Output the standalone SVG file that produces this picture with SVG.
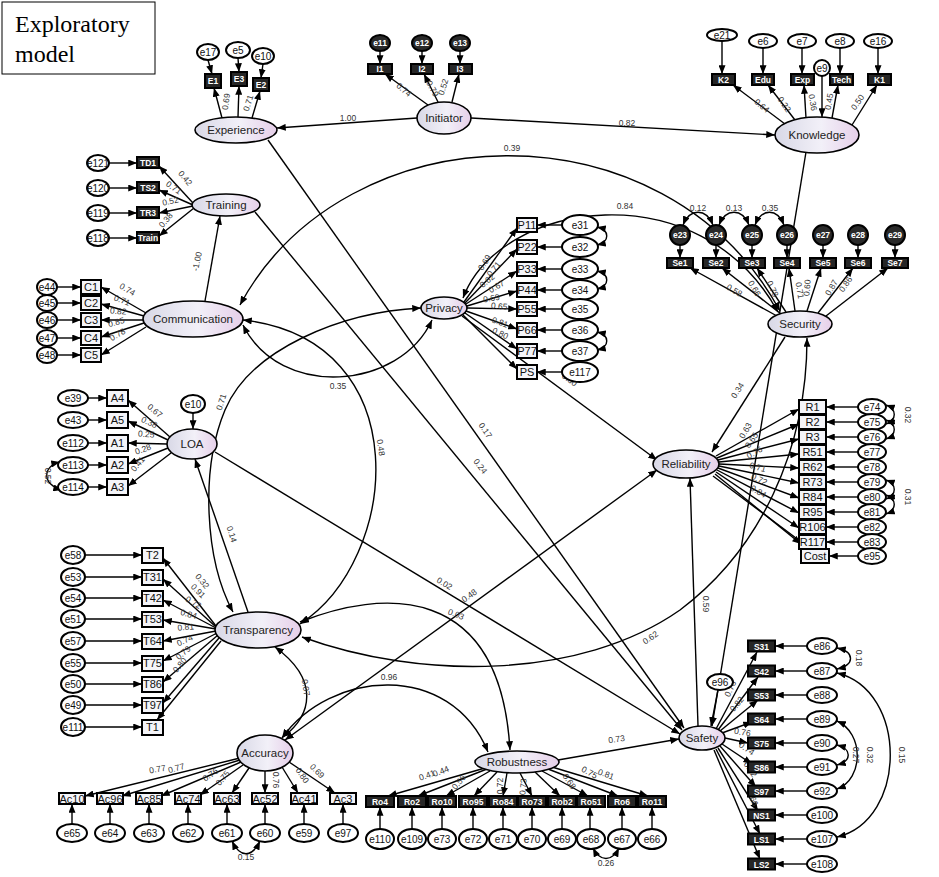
<svg xmlns="http://www.w3.org/2000/svg" width="939" height="877" viewBox="0 0 939 877">
<defs>
<linearGradient id="lg" x1="0" y1="0" x2="1" y2="0">
<stop offset="0" stop-color="#d8d8e6"/><stop offset="0.55" stop-color="#f2f0f8"/><stop offset="1" stop-color="#e6cfe9"/>
</linearGradient>
<marker id="ah" viewBox="0 0 10 8" refX="10" refY="4" markerWidth="9" markerHeight="7" markerUnits="userSpaceOnUse" orient="auto-start-reverse"><path d="M0,0 L10,4 L0,8 z" fill="#000"/></marker>
</defs>
<style>
.lat{fill:url(#lg);stroke:#000;stroke-width:1.6}
.err{fill:#fff;stroke:#000;stroke-width:2}
.errd{fill:#2a2a2a;stroke:#000;stroke-width:2}
.obs{fill:#f4f4f8;stroke:#000;stroke-width:2}
.obsd{fill:#262626;stroke:#000;stroke-width:2}
.lt{font-family:"Liberation Sans",Arial,sans-serif;font-size:11.5px;text-anchor:middle;fill:#222}
.ot{font-family:"Liberation Sans",Arial,sans-serif;font-size:11px;text-anchor:middle;fill:#111}
.od{font-family:"Liberation Sans",Arial,sans-serif;font-size:8.5px;text-anchor:middle;fill:#fff;font-weight:bold}
.et{font-family:"Liberation Sans",Arial,sans-serif;font-size:10px;text-anchor:middle;fill:#111}
.ed{font-family:"Liberation Sans",Arial,sans-serif;font-size:8.5px;text-anchor:middle;fill:#fff;font-weight:bold}
.n{font-family:"Liberation Sans",Arial,sans-serif;font-size:8.5px;text-anchor:middle;fill:#333}
.c{fill:none;stroke:#000;stroke-width:1.4;marker-end:url(#ah)}
.cc{fill:none;stroke:#000;stroke-width:1.4;marker-end:url(#ah);marker-start:url(#ah)}
</style>
<rect width="939" height="877" fill="#fff"/>

<g id="title">
<rect x="2" y="2" width="153" height="72" fill="#fff" stroke="#000" stroke-width="1"/>
<text x="15" y="32" font-family="Liberation Serif, serif" font-size="24">Exploratory</text>
<text x="15" y="62" font-family="Liberation Serif, serif" font-size="24">model</text>
</g>

<g id="connectors">
<!-- structural -->
<path class="c" d="M417,118 L277,128"/>
<path class="c" d="M471,118 L775,135"/>
<path class="c" d="M205,301 L220,216"/>
<path class="c" d="M268,140 L684,728"/>
<path class="c" d="M255,212 L682,730"/>
<path class="c" d="M806,152 L712,726"/>
<path class="c" d="M215,452 L680,734"/>
<path class="c" d="M462,316 L657,460"/>
<path class="c" d="M785,337 L712,452"/>
<path class="c" d="M698,726 L690,478"/>
<path class="c" d="M558,760 L679,739"/>
<path class="c" d="M248,612 L195,459"/>
<path class="cc" d="M285,740 L657,470"/>
<path class="cc" d="M240,305 C345,110 665,100 780,311"/>
<path class="cc" d="M463,298 C500,200 700,170 778,312"/>
<path class="cc" d="M243,325 C280,400 400,390 432,320"/>
<path class="cc" d="M243,320 C420,340 400,560 300,624"/>
<path class="cc" d="M233,612 C205,560 200,470 225,410 S340,312 421,308"/>
<path class="cc" d="M302,637 C420,680 580,680 680,610 C760,550 807,450 807,338"/>
<path class="cc" d="M300,622 C380,590 500,580 510,750"/>
<path class="cc" d="M282,738 C330,670 450,660 488,752"/>
<path class="cc" d="M275,647 C320,680 312,715 283,737"/>

<!-- experience -->
<path class="c" d="M208,60 L212,74"/><path class="c" d="M238,58 L239,72"/><path class="c" d="M263,64 L261,78"/>
<path class="c" d="M222,118 L214,88"/><path class="c" d="M238,117 L239,86"/><path class="c" d="M252,118 L260,91"/>
<!-- initiator -->
<path class="c" d="M380,51 L380,64"/><path class="c" d="M422,51 L422,64"/><path class="c" d="M460,51 L460,64"/>
<path class="c" d="M428,105 L385,74"/><path class="c" d="M438,102 L424,74"/><path class="c" d="M452,102 L459,74"/>
<!-- knowledge -->
<path class="c" d="M722,41 L722,74"/><path class="c" d="M763,48 L763,74"/><path class="c" d="M802,48 L802,74"/><path class="c" d="M840,48 L840,74"/><path class="c" d="M878,48 L878,74"/>
<path class="c" d="M822,76 L822,117"/>
<path class="c" d="M785,124 L733,85"/><path class="c" d="M795,120 L768,85"/><path class="c" d="M806,118 L804,85"/><path class="c" d="M832,118 L838,85"/><path class="c" d="M852,125 L877,85"/>
<!-- training -->
<path class="c" d="M109,163 L137,163"/><path class="c" d="M109,188 L137,188"/><path class="c" d="M109,213 L137,213"/><path class="c" d="M109,238 L137,238"/>
<path class="c" d="M193,203 L159,166"/><path class="c" d="M193,205 L159,190"/><path class="c" d="M193,206 L159,213"/><path class="c" d="M194,208 L159,236"/>
<!-- communication -->
<path class="c" d="M57,287 L81,287"/><path class="c" d="M57,303 L81,303"/><path class="c" d="M57,320 L81,320"/><path class="c" d="M57,338 L81,338"/><path class="c" d="M57,355 L81,355"/>
<path class="c" d="M146,313 L101,287"/><path class="c" d="M144,316 L101,304"/><path class="c" d="M143,320 L101,320"/><path class="c" d="M144,323 L101,337"/><path class="c" d="M146,327 L101,355"/>
<!-- privacy -->
<path class="c" d="M562,225 L537,225"/><path class="c" d="M562,247 L537,247"/><path class="c" d="M562,269 L537,269"/><path class="c" d="M562,290 L537,290"/><path class="c" d="M562,309 L537,309"/><path class="c" d="M562,330 L537,330"/><path class="c" d="M562,351 L537,351"/><path class="c" d="M562,372 L537,372"/>
<path class="c" d="M464,302 L517,228"/><path class="c" d="M465,303 L517,249"/><path class="c" d="M466,304 L517,271"/><path class="c" d="M467,306 L517,291"/><path class="c" d="M467,308 L517,309"/><path class="c" d="M466,311 L517,329"/><path class="c" d="M465,313 L517,349"/><path class="c" d="M463,315 L517,369"/>
<path class="cc" d="M597,227 C610,230 610,242 597,245"/><path class="cc" d="M597,271 C610,274 610,286 597,289"/><path class="cc" d="M597,332 C610,335 610,347 597,350"/>
<!-- security -->
<path class="c" d="M680,245 L680,258"/><path class="c" d="M716,245 L716,258"/><path class="c" d="M752,245 L752,258"/><path class="c" d="M787,245 L787,258"/><path class="c" d="M823,245 L823,258"/><path class="c" d="M858,245 L858,258"/><path class="c" d="M895,245 L895,258"/>
<path class="c" d="M777,316 L690,268"/><path class="c" d="M781,314 L722,268"/><path class="c" d="M786,312 L757,268"/><path class="c" d="M795,311 L789,268"/><path class="c" d="M807,311 L821,268"/><path class="c" d="M818,313 L853,268"/><path class="c" d="M826,316 L888,268"/>
<path class="cc" d="M683,225 C690,208 706,208 713,225"/><path class="cc" d="M719,225 C726,208 742,208 749,225"/><path class="cc" d="M755,225 C762,208 777,208 784,225"/>
<!-- loa -->
<path class="c" d="M88,398 L107,398"/><path class="c" d="M88,420 L107,420"/><path class="c" d="M88,443 L107,443"/><path class="c" d="M88,465 L107,465"/><path class="c" d="M88,487 L107,487"/>
<path class="c" d="M193,413 L193,429"/>
<path class="c" d="M170,437 L128,400"/><path class="c" d="M168,440 L128,421"/><path class="c" d="M167,444 L128,443"/><path class="c" d="M168,448 L128,464"/><path class="c" d="M171,453 L128,486"/>
<path class="cc" d="M60,462 C42,466 42,485 62,490"/>
<!-- reliability -->
<path class="c" d="M858,407 L826,407"/><path class="c" d="M858,422 L826,422"/><path class="c" d="M858,437 L826,437"/><path class="c" d="M858,452 L826,452"/><path class="c" d="M858,467 L826,467"/><path class="c" d="M858,482 L826,482"/><path class="c" d="M858,497 L826,497"/><path class="c" d="M858,512 L826,512"/><path class="c" d="M858,527 L826,527"/><path class="c" d="M858,542 L826,542"/><path class="c" d="M858,556 L829,556"/>
<path class="c" d="M716,456 L799,409"/><path class="c" d="M717,458 L799,424"/><path class="c" d="M718,460 L799,439"/><path class="c" d="M719,462 L799,454"/><path class="c" d="M719,464 L799,468"/><path class="c" d="M719,466 L799,483"/><path class="c" d="M718,468 L799,498"/><path class="c" d="M717,470 L799,513"/><path class="c" d="M716,472 L799,528"/><path class="c" d="M715,474 L801,544"/><path class="c" d="M713,476 L812,550"/>
<path class="cc" d="M886,405 C897,409 897,420 886,424"/><path class="cc" d="M886,420 C897,424 897,435 886,439"/><path class="cc" d="M886,480 C897,484 897,495 886,499"/><path class="cc" d="M886,495 C897,499 897,510 886,514"/>
<!-- transparency -->
<path class="c" d="M85,555 L142,555"/><path class="c" d="M85,577 L142,577"/><path class="c" d="M85,598 L142,598"/><path class="c" d="M85,619 L142,619"/><path class="c" d="M85,641 L142,641"/><path class="c" d="M85,663 L142,663"/><path class="c" d="M85,684 L142,684"/><path class="c" d="M85,705 L142,705"/><path class="c" d="M85,727 L142,727"/>
<path class="c" d="M216,626 L163,558"/><path class="c" d="M216,627 L163,579"/><path class="c" d="M216,628 L163,600"/><path class="c" d="M216,629 L163,620"/><path class="c" d="M216,631 L163,641"/><path class="c" d="M217,633 L163,661"/><path class="c" d="M218,635 L163,682"/><path class="c" d="M219,638 L163,703"/><path class="c" d="M221,641 L157,720"/>
<!-- safety -->
<path class="c" d="M807,646 L775,646"/><path class="c" d="M807,671 L775,671"/><path class="c" d="M807,695 L775,695"/><path class="c" d="M807,719 L775,719"/><path class="c" d="M807,743 L775,743"/><path class="c" d="M807,767 L775,767"/><path class="c" d="M807,791 L775,791"/><path class="c" d="M807,815 L775,815"/><path class="c" d="M807,839 L775,839"/><path class="c" d="M807,864 L775,864"/>
<path class="c" d="M718,690 L711,726"/>
<path class="c" d="M716,729 L757,652"/><path class="c" d="M718,730 L758,677"/><path class="c" d="M720,731 L758,700"/><path class="c" d="M722,733 L752,722"/><path class="c" d="M725,738 L748,743"/><path class="c" d="M722,744 L752,764"/><path class="c" d="M720,746 L756,787"/><path class="c" d="M718,748 L758,811"/><path class="c" d="M716,749 L760,834"/><path class="c" d="M714,750 L760,859"/>
<path class="cc" d="M837,648 C855,652 855,665 837,669"/><path class="cc" d="M837,721 C864,733 864,779 837,789"/><path class="cc" d="M837,745 C852,749 852,761 837,765"/><path class="cc" d="M837,673 C908,690 908,820 837,837"/>
<!-- accuracy -->
<path class="c" d="M72,824 L72,804"/><path class="c" d="M110,824 L110,804"/><path class="c" d="M149,824 L149,804"/><path class="c" d="M188,824 L188,804"/><path class="c" d="M227,824 L227,804"/><path class="c" d="M265,824 L265,804"/><path class="c" d="M304,824 L304,804"/><path class="c" d="M343,824 L343,804"/>
<path class="c" d="M240,758 L85,796"/><path class="c" d="M240,760 L122,796"/><path class="c" d="M241,762 L161,796"/><path class="c" d="M243,765 L200,795"/><path class="c" d="M249,768 L232,793"/><path class="c" d="M265,771 L265,793"/><path class="c" d="M282,767 L298,793"/><path class="c" d="M289,762 L335,793"/>
<path class="cc" d="M232,841 C240,858 252,858 260,841"/>
<!-- robustness -->
<path class="c" d="M380,829 L380,807"/><path class="c" d="M412,829 L412,807"/><path class="c" d="M442,829 L442,807"/><path class="c" d="M473,829 L473,807"/><path class="c" d="M503,829 L503,807"/><path class="c" d="M532,829 L532,807"/><path class="c" d="M562,829 L562,807"/><path class="c" d="M590,829 L590,807"/><path class="c" d="M622,829 L622,807"/><path class="c" d="M652,829 L652,807"/>
<path class="c" d="M485,768 L388,796"/><path class="c" d="M487,769 L418,796"/><path class="c" d="M490,771 L446,796"/><path class="c" d="M497,772 L474,796"/><path class="c" d="M507,773 L503,796"/><path class="c" d="M520,773 L532,796"/><path class="c" d="M535,772 L560,796"/><path class="c" d="M542,771 L588,796"/><path class="c" d="M548,769 L618,796"/><path class="c" d="M552,767 L648,796"/>
<path class="cc" d="M593,848 C600,862 612,862 619,848"/>
</g>

<g id="labels">
<text class="n" x="348" y="121">1.00</text>
<text class="n" x="627" y="126">0.82</text>
<text class="n" transform="translate(200,262) rotate(-78)">-1.00</text>
<text class="n" x="512" y="151">0.39</text>
<text class="n" x="625" y="209">0.84</text>
<text class="n" x="338" y="389">0.35</text>
<text class="n" transform="translate(378,448) rotate(82)">0.48</text>
<text class="n" transform="translate(224,403) rotate(-72)">0.71</text>
<text class="n" transform="translate(229,535) rotate(72)">0.14</text>
<text class="n" transform="translate(483,432) rotate(55)">0.17</text>
<text class="n" transform="translate(478,468) rotate(52)">0.24</text>
<text class="n" transform="translate(443,586) rotate(31)">0.02</text>
<text class="n" transform="translate(568,382) rotate(36)">0.30</text>
<text class="n" transform="translate(740,392) rotate(-58)">0.34</text>
<text class="n" transform="translate(703,604) rotate(90)">0.59</text>
<text class="n" transform="translate(471,598) rotate(-36)">0.48</text>
<text class="n" transform="translate(455,617) rotate(22)">0.03</text>
<text class="n" x="389" y="680">0.96</text>
<text class="n" transform="translate(303,688) rotate(82)">0.07</text>
<text class="n" transform="translate(652,640) rotate(-35)">0.62</text>
<text class="n" transform="translate(617,742) rotate(-8)">0.73</text>
<!-- experience -->
<text class="n" transform="translate(229,102) rotate(-82)">0.69</text>
<text class="n" transform="translate(251,104) rotate(-72)">0.71</text>
<!-- initiator -->
<text class="n" transform="translate(402,92) rotate(40)">0.74</text>
<text class="n" transform="translate(430,90) rotate(62)">0.79</text>
<text class="n" transform="translate(446,88) rotate(-72)">0.52</text>
<!-- knowledge -->
<text class="n" transform="translate(760,108) rotate(40)">0.64</text>
<text class="n" transform="translate(782,106) rotate(55)">0.22</text>
<text class="n" transform="translate(810,103) rotate(80)">0.36</text>
<text class="n" transform="translate(832,102) rotate(-80)">0.45</text>
<text class="n" transform="translate(860,104) rotate(-55)">0.50</text>
<!-- training -->
<text class="n" transform="translate(183,180) rotate(50)">0.42</text>
<text class="n" transform="translate(172,190) rotate(35)">0.71</text>
<text class="n" transform="translate(171,204) rotate(-12)">0.52</text>
<text class="n" transform="translate(168,222) rotate(-50)">0.38</text>
<!-- communication -->
<text class="n" transform="translate(126,292) rotate(30)">0.74</text>
<text class="n" transform="translate(121,303) rotate(22)">0.71</text>
<text class="n" transform="translate(118,314) rotate(5)">0.82</text>
<text class="n" transform="translate(117,325) rotate(-15)">0.85</text>
<text class="n" transform="translate(119,337) rotate(-30)">0.78</text>
<!-- privacy -->
<text class="n" transform="translate(487,264) rotate(-58)">0.69</text>
<text class="n" transform="translate(496,271) rotate(-50)">0.71</text>
<text class="n" transform="translate(489,283) rotate(-40)">0.62</text>
<text class="n" transform="translate(498,289) rotate(-30)">0.67</text>
<text class="n" transform="translate(492,301) rotate(-10)">0.69</text>
<text class="n" transform="translate(499,309) rotate(5)">0.65</text>
<text class="n" transform="translate(499,325) rotate(20)">0.81</text>
<text class="n" transform="translate(499,336) rotate(25)">0.80</text>
<!-- security -->
<text class="n" x="698" y="211">0.12</text>
<text class="n" x="734" y="211">0.13</text>
<text class="n" x="770" y="211">0.35</text>
<text class="n" transform="translate(733,293) rotate(30)">0.58</text>
<text class="n" transform="translate(752,290) rotate(60)">0.66</text>
<text class="n" transform="translate(770,290) rotate(65)">0.78</text>
<text class="n" transform="translate(797,291) rotate(80)">0.71</text>
<text class="n" transform="translate(810,288) rotate(-85)">0.60</text>
<text class="n" transform="translate(834,289) rotate(-60)">0.87</text>
<text class="n" transform="translate(848,286) rotate(-55)">0.86</text>
<!-- loa -->
<text class="n" transform="translate(153,413) rotate(40)">0.67</text>
<text class="n" transform="translate(148,425) rotate(25)">0.38</text>
<text class="n" transform="translate(146,437) rotate(5)">0.25</text>
<text class="n" transform="translate(144,452) rotate(-20)">0.28</text>
<text class="n" transform="translate(140,466) rotate(-50)">0.41</text>
<text class="n" transform="translate(45,476) rotate(90)">0.52</text>
<!-- reliability -->
<text class="n" transform="translate(748,432) rotate(-60)">0.63</text>
<text class="n" transform="translate(754,442) rotate(-55)">0.65</text>
<text class="n" transform="translate(756,455) rotate(-30)">0.76</text>
<text class="n" transform="translate(757,470) rotate(15)">0.71</text>
<text class="n" transform="translate(758,482) rotate(25)">0.72</text>
<text class="n" transform="translate(757,494) rotate(30)">0.84</text>
<text class="n" transform="translate(905,415) rotate(90)">0.32</text>
<text class="n" transform="translate(905,497) rotate(90)">0.31</text>
<!-- transparency -->
<text class="n" transform="translate(200,583) rotate(50)">0.32</text>
<text class="n" transform="translate(196,593) rotate(45)">0.91</text>
<text class="n" transform="translate(192,605) rotate(30)">0.72</text>
<text class="n" transform="translate(188,617) rotate(15)">0.84</text>
<text class="n" transform="translate(186,630) rotate(-5)">0.81</text>
<text class="n" transform="translate(186,643) rotate(-25)">0.74</text>
<text class="n" transform="translate(185,655) rotate(-40)">0.79</text>
<text class="n" transform="translate(182,667) rotate(-50)">0.80</text>
<!-- safety -->
<text class="n" transform="translate(733,690) rotate(-65)">0.76</text>
<text class="n" transform="translate(739,706) rotate(-50)">0.82</text>
<text class="n" transform="translate(742,735) rotate(10)">0.76</text>
<text class="n" transform="translate(745,751) rotate(35)">0.74</text>
<text class="n" transform="translate(748,771) rotate(55)">0.72</text>
<text class="n" transform="translate(750,799) rotate(68)">0.66</text>
<text class="n" transform="translate(856,658) rotate(90)">0.18</text>
<text class="n" transform="translate(853,755) rotate(90)">0.27</text>
<text class="n" transform="translate(867,755) rotate(90)">0.32</text>
<text class="n" transform="translate(899,755) rotate(90)">0.15</text>
<!-- accuracy -->
<text class="n" transform="translate(158,772) rotate(-10)">0.77</text>
<text class="n" transform="translate(177,771) rotate(-15)">0.77</text>
<text class="n" transform="translate(212,777) rotate(-35)">0.76</text>
<text class="n" transform="translate(225,780) rotate(-50)">0.75</text>
<text class="n" transform="translate(273,780) rotate(90)">0.76</text>
<text class="n" transform="translate(300,777) rotate(55)">0.80</text>
<text class="n" transform="translate(315,773) rotate(45)">0.69</text>
<text class="n" x="246" y="860">0.15</text>
<!-- robustness -->
<text class="n" transform="translate(428,778) rotate(-20)">0.41</text>
<text class="n" transform="translate(442,774) rotate(-22)">0.44</text>
<text class="n" transform="translate(461,784) rotate(-50)">0.56</text>
<text class="n" transform="translate(503,786) rotate(-90)">0.72</text>
<text class="n" transform="translate(526,787) rotate(-85)">0.73</text>
<text class="n" transform="translate(567,783) rotate(55)">0.68</text>
<text class="n" transform="translate(588,775) rotate(28)">0.75</text>
<text class="n" transform="translate(605,777) rotate(20)">0.81</text>
<text class="n" x="606" y="866">0.26</text>
</g>

<!-- latent nodes -->
<g id="Experience"><ellipse class="lat" cx="236" cy="130" rx="41" ry="13"/><text class="lt" x="236" y="134">Experience</text></g>
<g id="Initiator"><ellipse class="lat" cx="444" cy="118" rx="27" ry="16"/><text class="lt" x="444" y="122">Initiator</text></g>
<g id="Knowledge"><ellipse class="lat" cx="817" cy="135" rx="42" ry="18"/><text class="lt" x="817" y="139">Knowledge</text></g>
<g id="Training"><ellipse class="lat" cx="226" cy="205" rx="34" ry="11"/><text class="lt" x="226" y="209">Training</text></g>
<g id="Communication"><ellipse class="lat" cx="193" cy="319" rx="50" ry="18"/><text class="lt" x="193" y="323">Communication</text></g>
<g id="Privacy"><ellipse class="lat" cx="444" cy="308" rx="23" ry="11"/><text class="lt" x="444" y="312">Privacy</text></g>
<g id="Security"><ellipse class="lat" cx="800" cy="324" rx="32" ry="13"/><text class="lt" x="800" y="328">Security</text></g>
<g id="LOA"><ellipse class="lat" cx="192" cy="444" rx="25" ry="15"/><text class="lt" x="192" y="448">LOA</text></g>
<g id="Reliability"><ellipse class="lat" cx="686" cy="464" rx="33" ry="14"/><text class="lt" x="686" y="468">Reliability</text></g>
<g id="Transparency"><ellipse class="lat" cx="258" cy="630" rx="43" ry="18"/><text class="lt" x="258" y="634">Transparency</text></g>
<g id="Safety"><ellipse class="lat" cx="702" cy="738" rx="23" ry="12"/><text class="lt" x="702" y="742">Safety</text></g>
<g id="Accuracy"><ellipse class="lat" cx="265" cy="753" rx="28" ry="18"/><text class="lt" x="265" y="757">Accuracy</text></g>
<g id="Robustness"><ellipse class="lat" cx="517" cy="762" rx="42" ry="11"/><text class="lt" x="517" y="766">Robustness</text></g>

<!-- experience indicators -->
<g id="E1"><rect class="obsd" x="205" y="74" width="16" height="14"/><text class="od" x="213" y="84">E1</text></g>
<g id="E3"><rect class="obsd" x="231" y="72" width="16" height="14"/><text class="od" x="239" y="82">E3</text></g>
<g id="E2"><rect class="obsd" x="253" y="78" width="16" height="13"/><text class="od" x="261" y="88">E2</text></g>
<g id="e17"><ellipse class="err" cx="208" cy="52" rx="11" ry="8"/><text class="et" x="208" y="56">e17</text></g>
<g id="e5"><ellipse class="err" cx="238" cy="50" rx="12" ry="8"/><text class="et" x="238" y="54">e5</text></g>
<g id="e10a"><ellipse class="err" cx="263" cy="56" rx="11" ry="8"/><text class="et" x="263" y="60">e10</text></g>

<!-- initiator indicators -->
<g id="I1"><rect class="obsd" x="368" y="64" width="24" height="10"/><text class="od" x="380" y="72">I1</text></g>
<g id="I2"><rect class="obsd" x="411" y="64" width="22" height="10"/><text class="od" x="422" y="72">I2</text></g>
<g id="I3"><rect class="obsd" x="449" y="64" width="23" height="10"/><text class="od" x="460" y="72">I3</text></g>
<g id="e11"><ellipse class="errd" cx="380" cy="43" rx="10" ry="8"/><text class="ed" x="380" y="46">e11</text></g>
<g id="e12"><ellipse class="errd" cx="422" cy="43" rx="10" ry="8"/><text class="ed" x="422" y="46">e12</text></g>
<g id="e13"><ellipse class="errd" cx="460" cy="43" rx="10" ry="8"/><text class="ed" x="460" y="46">e13</text></g>

<!-- knowledge indicators -->
<g id="K2"><rect class="obsd" x="712" y="74" width="23" height="11"/><text class="od" x="723.5" y="83">K2</text></g>
<g id="Edu"><rect class="obsd" x="752" y="74" width="22" height="11"/><text class="od" x="763" y="83">Edu</text></g>
<g id="Exp"><rect class="obsd" x="791" y="74" width="23" height="11"/><text class="od" x="802.5" y="83">Exp</text></g>
<g id="Tech"><rect class="obsd" x="830" y="74" width="23" height="11"/><text class="od" x="841.5" y="83">Tech</text></g>
<g id="K1"><rect class="obsd" x="868" y="74" width="23" height="11"/><text class="od" x="879.5" y="83">K1</text></g>
<g id="e21"><ellipse class="err" cx="722" cy="35" rx="15" ry="6"/><text class="et" x="722" y="39">e21</text></g>
<g id="e6"><ellipse class="err" cx="763" cy="41" rx="14" ry="7"/><text class="et" x="763" y="45">e6</text></g>
<g id="e7"><ellipse class="err" cx="802" cy="41" rx="14" ry="7"/><text class="et" x="802" y="45">e7</text></g>
<g id="e8"><ellipse class="err" cx="840" cy="41" rx="14" ry="7"/><text class="et" x="840" y="45">e8</text></g>
<g id="e16"><ellipse class="err" cx="878" cy="41" rx="14" ry="7"/><text class="et" x="878" y="45">e16</text></g>
<g id="e9"><circle class="err" cx="822" cy="68" r="8"/><text class="et" x="822" y="72">e9</text></g>

<!-- training indicators -->
<g id="TD1"><rect class="obsd" x="137" y="157" width="22" height="11"/><text class="od" x="148" y="166">TD1</text></g>
<g id="TS2"><rect class="obsd" x="137" y="182" width="22" height="11"/><text class="od" x="148" y="191">TS2</text></g>
<g id="TR3"><rect class="obsd" x="137" y="207" width="22" height="11"/><text class="od" x="148" y="216">TR3</text></g>
<g id="Train"><rect class="obsd" x="137" y="232" width="22" height="11"/><text class="od" x="148" y="241">Train</text></g>
<g id="e121"><ellipse class="err" cx="98" cy="163" rx="11" ry="8"/><text class="et" x="98" y="167">e121</text></g>
<g id="e120"><ellipse class="err" cx="98" cy="188" rx="11" ry="8"/><text class="et" x="98" y="192">e120</text></g>
<g id="e119"><ellipse class="err" cx="98" cy="213" rx="11" ry="8"/><text class="et" x="98" y="217">e119</text></g>
<g id="e118"><ellipse class="err" cx="98" cy="238" rx="11" ry="8"/><text class="et" x="98" y="242">e118</text></g>

<!-- communication indicators -->
<g id="C1"><rect class="obs" x="81" y="280" width="20" height="14"/><text class="ot" x="91" y="291">C1</text></g>
<g id="C2"><rect class="obs" x="81" y="296" width="20" height="14"/><text class="ot" x="91" y="307">C2</text></g>
<g id="C3"><rect class="obs" x="81" y="313" width="20" height="14"/><text class="ot" x="91" y="324">C3</text></g>
<g id="C4"><rect class="obs" x="81" y="331" width="20" height="14"/><text class="ot" x="91" y="342">C4</text></g>
<g id="C5"><rect class="obs" x="81" y="348" width="20" height="14"/><text class="ot" x="91" y="359">C5</text></g>
<g id="e44"><ellipse class="err" cx="47" cy="287" rx="10" ry="8"/><text class="et" x="47" y="291">e44</text></g>
<g id="e45"><ellipse class="err" cx="47" cy="303" rx="10" ry="8"/><text class="et" x="47" y="307">e45</text></g>
<g id="e46"><ellipse class="err" cx="47" cy="320" rx="10" ry="8"/><text class="et" x="47" y="324">e46</text></g>
<g id="e47"><ellipse class="err" cx="47" cy="338" rx="10" ry="8"/><text class="et" x="47" y="342">e47</text></g>
<g id="e48"><ellipse class="err" cx="47" cy="355" rx="10" ry="8"/><text class="et" x="47" y="359">e48</text></g>

<!-- privacy indicators -->
<g id="P11"><rect class="obs" x="517" y="218" width="20" height="14"/><text class="ot" x="527" y="229">P11</text></g>
<g id="P22"><rect class="obs" x="517" y="240" width="20" height="14"/><text class="ot" x="527" y="251">P22</text></g>
<g id="P33"><rect class="obs" x="517" y="262" width="20" height="14"/><text class="ot" x="527" y="273">P33</text></g>
<g id="P44"><rect class="obs" x="517" y="283" width="20" height="14"/><text class="ot" x="527" y="294">P44</text></g>
<g id="P55"><rect class="obs" x="517" y="302" width="20" height="14"/><text class="ot" x="527" y="313">P55</text></g>
<g id="P66"><rect class="obs" x="517" y="323" width="20" height="14"/><text class="ot" x="527" y="334">P66</text></g>
<g id="P77"><rect class="obs" x="517" y="344" width="20" height="14"/><text class="ot" x="527" y="355">P77</text></g>
<g id="PS"><rect class="obs" x="517" y="365" width="20" height="14"/><text class="ot" x="527" y="376">PS</text></g>
<g id="e31"><ellipse class="err" cx="580" cy="225" rx="18" ry="10"/><text class="et" x="580" y="229">e31</text></g>
<g id="e32"><ellipse class="err" cx="580" cy="247" rx="18" ry="10"/><text class="et" x="580" y="251">e32</text></g>
<g id="e33"><ellipse class="err" cx="580" cy="269" rx="18" ry="10"/><text class="et" x="580" y="273">e33</text></g>
<g id="e34"><ellipse class="err" cx="580" cy="290" rx="18" ry="10"/><text class="et" x="580" y="294">e34</text></g>
<g id="e35"><ellipse class="err" cx="580" cy="309" rx="18" ry="10"/><text class="et" x="580" y="313">e35</text></g>
<g id="e36"><ellipse class="err" cx="580" cy="330" rx="18" ry="10"/><text class="et" x="580" y="334">e36</text></g>
<g id="e37"><ellipse class="err" cx="580" cy="351" rx="18" ry="10"/><text class="et" x="580" y="355">e37</text></g>
<g id="e117"><ellipse class="err" cx="580" cy="372" rx="18" ry="10"/><text class="et" x="580" y="376">e117</text></g>

<!-- security indicators -->
<g id="Se1"><rect class="obsd" x="667" y="258" width="26" height="10"/><text class="od" x="680" y="266">Se1</text></g>
<g id="Se2"><rect class="obsd" x="703" y="258" width="26" height="10"/><text class="od" x="716" y="266">Se2</text></g>
<g id="Se3"><rect class="obsd" x="739" y="258" width="26" height="10"/><text class="od" x="752" y="266">Se3</text></g>
<g id="Se4"><rect class="obsd" x="774" y="258" width="26" height="10"/><text class="od" x="787" y="266">Se4</text></g>
<g id="Se5"><rect class="obsd" x="810" y="258" width="26" height="10"/><text class="od" x="823" y="266">Se5</text></g>
<g id="Se6"><rect class="obsd" x="845" y="258" width="26" height="10"/><text class="od" x="858" y="266">Se6</text></g>
<g id="Se7"><rect class="obsd" x="882" y="258" width="26" height="10"/><text class="od" x="895" y="266">Se7</text></g>
<g id="e23"><circle class="errd" cx="680" cy="235" r="10"/><text class="ed" x="680" y="238">e23</text></g>
<g id="e24"><circle class="errd" cx="716" cy="235" r="10"/><text class="ed" x="716" y="238">e24</text></g>
<g id="e25"><circle class="errd" cx="752" cy="235" r="10"/><text class="ed" x="752" y="238">e25</text></g>
<g id="e26"><circle class="errd" cx="787" cy="235" r="10"/><text class="ed" x="787" y="238">e26</text></g>
<g id="e27"><circle class="errd" cx="823" cy="235" r="10"/><text class="ed" x="823" y="238">e27</text></g>
<g id="e28"><circle class="errd" cx="858" cy="235" r="10"/><text class="ed" x="858" y="238">e28</text></g>
<g id="e29"><circle class="errd" cx="895" cy="235" r="10"/><text class="ed" x="895" y="238">e29</text></g>

<!-- loa indicators -->
<g id="A4"><rect class="obs" x="107" y="390" width="21" height="16"/><text class="ot" x="117.5" y="402">A4</text></g>
<g id="A5"><rect class="obs" x="107" y="412" width="21" height="16"/><text class="ot" x="117.5" y="424">A5</text></g>
<g id="A1"><rect class="obs" x="107" y="435" width="21" height="16"/><text class="ot" x="117.5" y="447">A1</text></g>
<g id="A2"><rect class="obs" x="107" y="457" width="21" height="16"/><text class="ot" x="117.5" y="469">A2</text></g>
<g id="A3"><rect class="obs" x="107" y="479" width="21" height="16"/><text class="ot" x="117.5" y="491">A3</text></g>
<g id="e39"><ellipse class="err" cx="73" cy="398" rx="15" ry="8"/><text class="et" x="73" y="402">e39</text></g>
<g id="e43"><ellipse class="err" cx="73" cy="420" rx="15" ry="8"/><text class="et" x="73" y="424">e43</text></g>
<g id="e112"><ellipse class="err" cx="73" cy="443" rx="15" ry="8"/><text class="et" x="73" y="447">e112</text></g>
<g id="e113"><ellipse class="err" cx="73" cy="465" rx="15" ry="8"/><text class="et" x="73" y="469">e113</text></g>
<g id="e114"><ellipse class="err" cx="73" cy="487" rx="15" ry="8"/><text class="et" x="73" y="491">e114</text></g>
<g id="e10"><ellipse class="err" cx="193" cy="404" rx="12" ry="9"/><text class="et" x="193" y="408">e10</text></g>

<!-- reliability indicators -->
<g id="R1"><rect class="obs" x="799" y="400" width="27" height="14"/><text class="ot" x="812.5" y="411">R1</text></g>
<g id="R2"><rect class="obs" x="799" y="415" width="27" height="14"/><text class="ot" x="812.5" y="426">R2</text></g>
<g id="R3"><rect class="obs" x="799" y="430" width="27" height="14"/><text class="ot" x="812.5" y="441">R3</text></g>
<g id="R51"><rect class="obs" x="799" y="445" width="27" height="14"/><text class="ot" x="812.5" y="456">R51</text></g>
<g id="R62"><rect class="obs" x="799" y="460" width="27" height="14"/><text class="ot" x="812.5" y="471">R62</text></g>
<g id="R73"><rect class="obs" x="799" y="475" width="27" height="14"/><text class="ot" x="812.5" y="486">R73</text></g>
<g id="R84"><rect class="obs" x="799" y="490" width="27" height="14"/><text class="ot" x="812.5" y="501">R84</text></g>
<g id="R95"><rect class="obs" x="799" y="505" width="27" height="14"/><text class="ot" x="812.5" y="516">R95</text></g>
<g id="R106"><rect class="obs" x="799" y="520" width="27" height="14"/><text class="ot" x="812.5" y="531">R106</text></g>
<g id="R117"><rect class="obs" x="799" y="535" width="27" height="14"/><text class="ot" x="812.5" y="546">R117</text></g>
<g id="Cost"><rect class="obs" x="801" y="549" width="28" height="14"/><text class="ot" x="815" y="560">Cost</text></g>
<g id="e74"><ellipse class="err" cx="872" cy="407" rx="14" ry="8"/><text class="et" x="872" y="411">e74</text></g>
<g id="e75"><ellipse class="err" cx="872" cy="422" rx="14" ry="8"/><text class="et" x="872" y="426">e75</text></g>
<g id="e76"><ellipse class="err" cx="872" cy="437" rx="14" ry="8"/><text class="et" x="872" y="441">e76</text></g>
<g id="e77"><ellipse class="err" cx="872" cy="452" rx="14" ry="8"/><text class="et" x="872" y="456">e77</text></g>
<g id="e78"><ellipse class="err" cx="872" cy="467" rx="14" ry="8"/><text class="et" x="872" y="471">e78</text></g>
<g id="e79"><ellipse class="err" cx="872" cy="482" rx="14" ry="8"/><text class="et" x="872" y="486">e79</text></g>
<g id="e80"><ellipse class="err" cx="872" cy="497" rx="14" ry="8"/><text class="et" x="872" y="501">e80</text></g>
<g id="e81"><ellipse class="err" cx="872" cy="512" rx="14" ry="8"/><text class="et" x="872" y="516">e81</text></g>
<g id="e82"><ellipse class="err" cx="872" cy="527" rx="14" ry="8"/><text class="et" x="872" y="531">e82</text></g>
<g id="e83"><ellipse class="err" cx="872" cy="542" rx="14" ry="8"/><text class="et" x="872" y="546">e83</text></g>
<g id="e95"><ellipse class="err" cx="872" cy="556" rx="14" ry="8"/><text class="et" x="872" y="560">e95</text></g>

<!-- transparency indicators -->
<g id="T2"><rect class="obs" x="142" y="548" width="21" height="15"/><text class="ot" x="152.5" y="559">T2</text></g>
<g id="T31"><rect class="obs" x="142" y="570" width="21" height="15"/><text class="ot" x="152.5" y="581">T31</text></g>
<g id="T42"><rect class="obs" x="142" y="591" width="21" height="15"/><text class="ot" x="152.5" y="602">T42</text></g>
<g id="T53"><rect class="obs" x="142" y="612" width="21" height="15"/><text class="ot" x="152.5" y="623">T53</text></g>
<g id="T64"><rect class="obs" x="142" y="634" width="21" height="15"/><text class="ot" x="152.5" y="645">T64</text></g>
<g id="T75"><rect class="obs" x="142" y="656" width="21" height="15"/><text class="ot" x="152.5" y="667">T75</text></g>
<g id="T86"><rect class="obs" x="142" y="677" width="21" height="15"/><text class="ot" x="152.5" y="688">T86</text></g>
<g id="T97"><rect class="obs" x="142" y="698" width="21" height="15"/><text class="ot" x="152.5" y="709">T97</text></g>
<g id="T1"><rect class="obs" x="142" y="720" width="21" height="15"/><text class="ot" x="152.5" y="731">T1</text></g>
<g id="e58"><ellipse class="err" cx="73" cy="555" rx="12" ry="9"/><text class="et" x="73" y="559">e58</text></g>
<g id="e53"><ellipse class="err" cx="73" cy="577" rx="12" ry="9"/><text class="et" x="73" y="581">e53</text></g>
<g id="e54"><ellipse class="err" cx="73" cy="598" rx="12" ry="9"/><text class="et" x="73" y="602">e54</text></g>
<g id="e51"><ellipse class="err" cx="73" cy="619" rx="12" ry="9"/><text class="et" x="73" y="623">e51</text></g>
<g id="e57"><ellipse class="err" cx="73" cy="641" rx="12" ry="9"/><text class="et" x="73" y="645">e57</text></g>
<g id="e55"><ellipse class="err" cx="73" cy="663" rx="12" ry="9"/><text class="et" x="73" y="667">e55</text></g>
<g id="e50"><ellipse class="err" cx="73" cy="684" rx="12" ry="9"/><text class="et" x="73" y="688">e50</text></g>
<g id="e49"><ellipse class="err" cx="73" cy="705" rx="12" ry="9"/><text class="et" x="73" y="709">e49</text></g>
<g id="e111"><ellipse class="err" cx="73" cy="727" rx="12" ry="9"/><text class="et" x="73" y="731">e111</text></g>

<!-- safety indicators -->
<g id="S31"><rect class="obsd" x="748" y="640.5" width="27" height="11"/><text class="od" x="761.5" y="649.5">S31</text></g>
<g id="S42"><rect class="obsd" x="748" y="665.5" width="27" height="11"/><text class="od" x="761.5" y="674.5">S42</text></g>
<g id="S53"><rect class="obsd" x="748" y="689.5" width="27" height="11"/><text class="od" x="761.5" y="698.5">S53</text></g>
<g id="S64"><rect class="obsd" x="748" y="713.5" width="27" height="11"/><text class="od" x="761.5" y="722.5">S64</text></g>
<g id="S75"><rect class="obsd" x="748" y="737.5" width="27" height="11"/><text class="od" x="761.5" y="746.5">S75</text></g>
<g id="S86"><rect class="obsd" x="748" y="761.5" width="27" height="11"/><text class="od" x="761.5" y="770.5">S86</text></g>
<g id="S97"><rect class="obsd" x="748" y="785.5" width="27" height="11"/><text class="od" x="761.5" y="794.5">S97</text></g>
<g id="NS1"><rect class="obsd" x="748" y="809.5" width="27" height="11"/><text class="od" x="761.5" y="818.5">NS1</text></g>
<g id="LS1"><rect class="obsd" x="748" y="833.5" width="27" height="11"/><text class="od" x="761.5" y="842.5">LS1</text></g>
<g id="LS2"><rect class="obsd" x="748" y="858.5" width="27" height="11"/><text class="od" x="761.5" y="867.5">LS2</text></g>
<g id="e86"><ellipse class="err" cx="822" cy="646" rx="15" ry="8"/><text class="et" x="822" y="650">e86</text></g>
<g id="e87"><ellipse class="err" cx="822" cy="671" rx="15" ry="8"/><text class="et" x="822" y="675">e87</text></g>
<g id="e88"><ellipse class="err" cx="822" cy="695" rx="15" ry="8"/><text class="et" x="822" y="699">e88</text></g>
<g id="e89"><ellipse class="err" cx="822" cy="719" rx="15" ry="8"/><text class="et" x="822" y="723">e89</text></g>
<g id="e90"><ellipse class="err" cx="822" cy="743" rx="15" ry="8"/><text class="et" x="822" y="747">e90</text></g>
<g id="e91"><ellipse class="err" cx="822" cy="767" rx="15" ry="8"/><text class="et" x="822" y="771">e91</text></g>
<g id="e92"><ellipse class="err" cx="822" cy="791" rx="15" ry="8"/><text class="et" x="822" y="795">e92</text></g>
<g id="e100"><ellipse class="err" cx="822" cy="815" rx="15" ry="8"/><text class="et" x="822" y="819">e100</text></g>
<g id="e107"><ellipse class="err" cx="822" cy="839" rx="15" ry="8"/><text class="et" x="822" y="843">e107</text></g>
<g id="e108"><ellipse class="err" cx="822" cy="864" rx="15" ry="8"/><text class="et" x="822" y="868">e108</text></g>
<g id="e96"><ellipse class="err" cx="720" cy="682" rx="13" ry="8"/><text class="et" x="720" y="686">e96</text></g>

<!-- accuracy indicators -->
<g id="Ac10"><rect class="obs" x="59" y="793" width="26" height="11"/><text class="ot" x="72" y="802.5">Ac10</text></g>
<g id="Ac96"><rect class="obs" x="97" y="793" width="26" height="11"/><text class="ot" x="110" y="802.5">Ac96</text></g>
<g id="Ac85"><rect class="obs" x="136" y="793" width="26" height="11"/><text class="ot" x="149" y="802.5">Ac85</text></g>
<g id="Ac74"><rect class="obs" x="175" y="793" width="26" height="11"/><text class="ot" x="188" y="802.5">Ac74</text></g>
<g id="Ac63"><rect class="obs" x="214" y="793" width="26" height="11"/><text class="ot" x="227" y="802.5">Ac63</text></g>
<g id="Ac52"><rect class="obs" x="252" y="793" width="26" height="11"/><text class="ot" x="265" y="802.5">Ac52</text></g>
<g id="Ac41"><rect class="obs" x="291" y="793" width="26" height="11"/><text class="ot" x="304" y="802.5">Ac41</text></g>
<g id="Ac3"><rect class="obs" x="330" y="793" width="26" height="11"/><text class="ot" x="343" y="802.5">Ac3</text></g>
<g id="e65"><ellipse class="err" cx="72" cy="833" rx="15" ry="9"/><text class="et" x="72" y="837">e65</text></g>
<g id="e64"><ellipse class="err" cx="110" cy="833" rx="15" ry="9"/><text class="et" x="110" y="837">e64</text></g>
<g id="e63"><ellipse class="err" cx="149" cy="833" rx="15" ry="9"/><text class="et" x="149" y="837">e63</text></g>
<g id="e62"><ellipse class="err" cx="188" cy="833" rx="15" ry="9"/><text class="et" x="188" y="837">e62</text></g>
<g id="e61"><ellipse class="err" cx="227" cy="833" rx="15" ry="9"/><text class="et" x="227" y="837">e61</text></g>
<g id="e60"><ellipse class="err" cx="265" cy="833" rx="15" ry="9"/><text class="et" x="265" y="837">e60</text></g>
<g id="e59"><ellipse class="err" cx="304" cy="833" rx="15" ry="9"/><text class="et" x="304" y="837">e59</text></g>
<g id="e97"><ellipse class="err" cx="343" cy="833" rx="15" ry="9"/><text class="et" x="343" y="837">e97</text></g>

<!-- robustness indicators -->
<g id="Ro4"><rect class="obsd" x="366" y="796" width="28" height="11"/><text class="od" x="380" y="805">Ro4</text></g>
<g id="Ro2"><rect class="obsd" x="398" y="796" width="28" height="11"/><text class="od" x="412" y="805">Ro2</text></g>
<g id="Ro10"><rect class="obsd" x="428" y="796" width="28" height="11"/><text class="od" x="442" y="805">Ro10</text></g>
<g id="Ro95"><rect class="obsd" x="459" y="796" width="28" height="11"/><text class="od" x="473" y="805">Ro95</text></g>
<g id="Ro84"><rect class="obsd" x="489" y="796" width="28" height="11"/><text class="od" x="503" y="805">Ro84</text></g>
<g id="Ro73"><rect class="obsd" x="518" y="796" width="28" height="11"/><text class="od" x="532" y="805">Ro73</text></g>
<g id="Rob2"><rect class="obsd" x="548" y="796" width="28" height="11"/><text class="od" x="562" y="805">Rob2</text></g>
<g id="Ro51"><rect class="obsd" x="577" y="796" width="28" height="11"/><text class="od" x="591" y="805">Ro51</text></g>
<g id="Ro6"><rect class="obsd" x="608" y="796" width="28" height="11"/><text class="od" x="622" y="805">Ro6</text></g>
<g id="Ro11"><rect class="obsd" x="638" y="796" width="28" height="11"/><text class="od" x="652" y="805">Ro11</text></g>
<g id="e110"><ellipse class="err" cx="380" cy="839" rx="14" ry="10"/><text class="et" x="380" y="843">e110</text></g>
<g id="e109"><ellipse class="err" cx="412" cy="839" rx="14" ry="10"/><text class="et" x="412" y="843">e109</text></g>
<g id="e73"><ellipse class="err" cx="442" cy="839" rx="14" ry="10"/><text class="et" x="442" y="843">e73</text></g>
<g id="e72"><ellipse class="err" cx="473" cy="839" rx="14" ry="10"/><text class="et" x="473" y="843">e72</text></g>
<g id="e71"><ellipse class="err" cx="503" cy="839" rx="14" ry="10"/><text class="et" x="503" y="843">e71</text></g>
<g id="e70"><ellipse class="err" cx="532" cy="839" rx="14" ry="10"/><text class="et" x="532" y="843">e70</text></g>
<g id="e69"><ellipse class="err" cx="562" cy="839" rx="14" ry="10"/><text class="et" x="562" y="843">e69</text></g>
<g id="e68"><ellipse class="err" cx="591" cy="839" rx="14" ry="10"/><text class="et" x="591" y="843">e68</text></g>
<g id="e67"><ellipse class="err" cx="622" cy="839" rx="14" ry="10"/><text class="et" x="622" y="843">e67</text></g>
<g id="e66"><ellipse class="err" cx="652" cy="839" rx="14" ry="10"/><text class="et" x="652" y="843">e66</text></g>
</svg>
